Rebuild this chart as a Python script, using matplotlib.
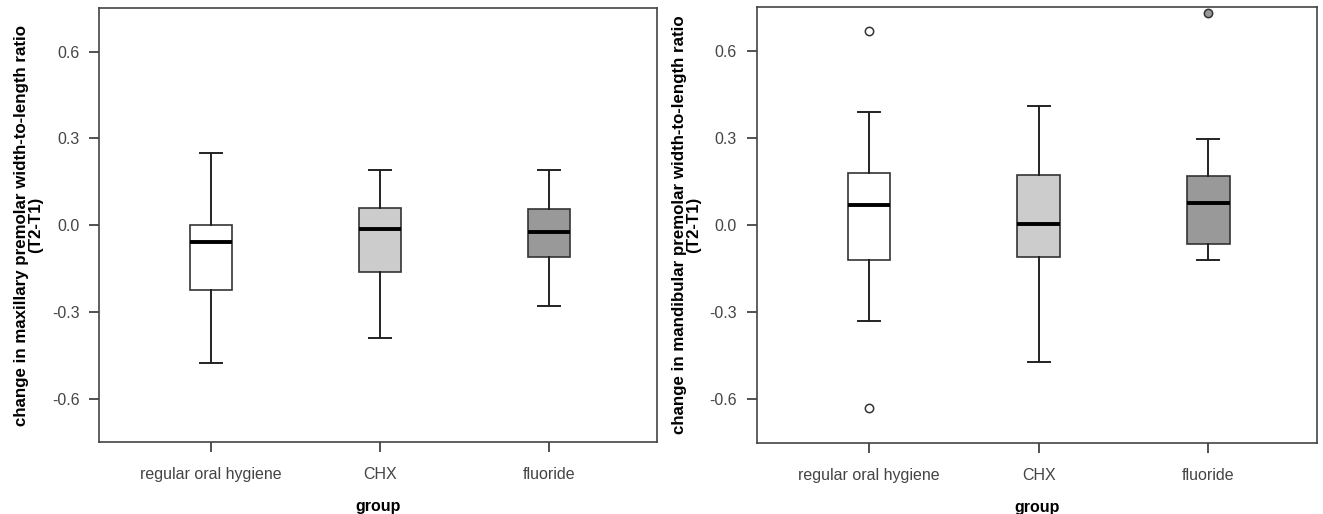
import numpy as np
import matplotlib
matplotlib.use("Agg")
import matplotlib.pyplot as plt

groups = ["regular oral hygiene", "CHX", "fluoride"]
box_colors = ["#ffffff", "#cccccc", "#999999"]
yticks = [-0.6, -0.3, 0.0, 0.3, 0.6]

# maxillary (left panel): whislo, q1, med, q3, whishi
max_whislo = [-0.478, -0.39, -0.28]
max_q1 = [-0.223, -0.163, -0.11]
max_med = [-0.06, -0.014, -0.025]
max_q3 = [0.0, 0.059, 0.055]
max_whishi = [0.25, 0.19, 0.19]
max_fliers = [[], [], []]

# mandibular (right panel)
man_whislo = [-0.33, -0.47, -0.12]
man_q1 = [-0.12, -0.109, -0.065]
man_med = [0.07, 0.005, 0.075]
man_q3 = [0.179, 0.173, 0.168]
man_whishi = [0.39, 0.409, 0.298]
man_fliers = [[0.669, -0.63], [], [0.73]]

tick_font = ["Liberation Sans", "DejaVu Sans"]
label_font = ["Liberation Sans", "DejaVu Sans"]


def make_stats(lo, q1, med, q3, hi, fl):
    return [dict(whislo=lo[i], q1=q1[i], med=med[i], q3=q3[i], whishi=hi[i],
                 fliers=fl[i], label=groups[i]) for i in range(len(groups))]


def draw_panel(ax, stats, ylabel):
    bp = ax.bxp(stats, positions=[1, 2, 3], widths=0.25, patch_artist=True,
                capwidths=0.13, showfliers=True,
                boxprops=dict(edgecolor="#333333", linewidth=1.2),
                medianprops=dict(color="black", linewidth=2.8),
                whiskerprops=dict(color="#222222", linewidth=1.4),
                capprops=dict(color="#222222", linewidth=1.4),
                flierprops=dict(marker="o", markersize=6, markerfacecolor="white",
                                markeredgecolor="#333333", markeredgewidth=1.1))
    for patch, c in zip(bp["boxes"], box_colors):
        patch.set_facecolor(c)
    for fl, c in zip(bp["fliers"], box_colors):
        if c == "#999999":
            fl.set_markerfacecolor(c)
    ax.set_xlim(0.34, 3.64)
    ax.set_ylim(-0.75, 0.75)
    ax.set_yticks(yticks)
    ax.set_yticklabels(["%.1f" % v for v in yticks], family=tick_font,
                       fontsize=11.5, color="#444444")
    ax.set_xticks([1, 2, 3])
    ax.set_xticklabels(groups, family=tick_font, fontsize=11.5, color="#444444")
    ax.tick_params(axis="both", direction="out", length=7.2, width=1.2,
                   color="#333333", pad=7)
    ax.tick_params(axis="x", pad=11)
    for s in ax.spines.values():
        s.set_color("#444444")
        s.set_linewidth(1.2)
    ax.set_ylabel(ylabel, family=label_font, fontweight="bold", fontsize=12.2,
                  linespacing=0.95, labelpad=6)
    ax.set_xlabel("group", family=label_font, fontweight="bold", fontsize=11.5,
                  labelpad=12)


fig = plt.figure(figsize=(13.23, 5.14), dpi=100)
ax1 = fig.add_axes([0.075, 0.14, 0.4216, 0.844])
ax2 = fig.add_axes([0.572, 0.138, 0.4235, 0.848])

draw_panel(ax1, make_stats(max_whislo, max_q1, max_med, max_q3, max_whishi, max_fliers),
           "change in maxillary premolar width-to-length ratio\n(T2-T1)")
draw_panel(ax2, make_stats(man_whislo, man_q1, man_med, man_q3, man_whishi, man_fliers),
           "change in mandibular premolar width-to-length ratio\n(T2-T1)")

fig.savefig("out.png", dpi=100)
